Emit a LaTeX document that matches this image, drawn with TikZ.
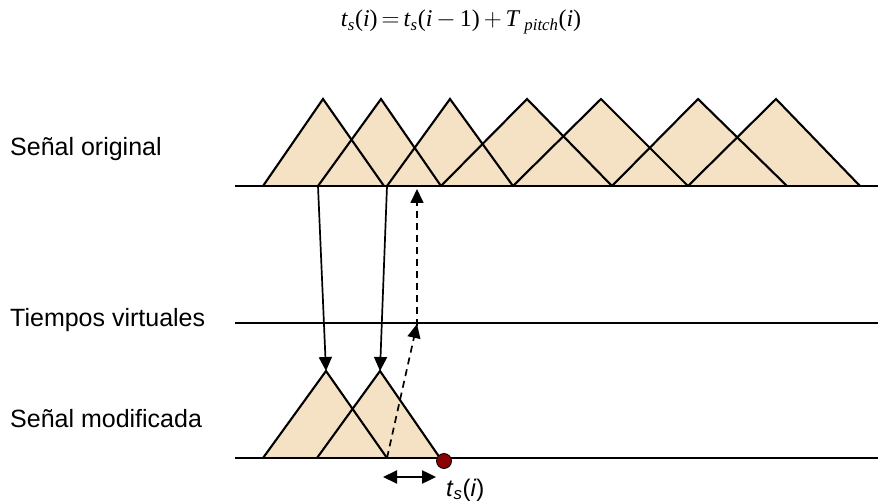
\documentclass[tikz,border=0pt]{standalone}
\usepackage{fontspec}
\setmainfont{Liberation Sans}
\newfontfamily\formulafont{Liberation Serif}
\usetikzlibrary{arrows.meta, calc}
\definecolor{sigFill}{HTML}{F5E1C3}
\definecolor{sigDot}{HTML}{8B0000}
\tikzset{
  axisline/.style={line width=2.1pt, black},
  wavefill/.style={fill=sigFill},
  waveedge/.style={draw=black, line width=2.1pt},
  maparrow/.style={-{Triangle[length=14pt, width=13pt]}, line width=1.7pt},
  vtarrow/.style={maparrow, dash pattern=on 7pt off 5pt},
  shiftarrow/.style={{Triangle[length=14pt, width=13pt]}-{Triangle[length=14pt, width=13pt]}, line width=2pt},
  rowlabel/.style={anchor=base west, inner sep=0pt, font=\fontsize{25}{30}\selectfont},
  tsdot/.style={circle, fill=sigDot, draw=black, line width=0.8pt, minimum size=15pt, inner sep=0pt}
}

\begin{document}
\begin{tikzpicture}[x=1pt, y=-1pt]
  \useasboundingbox (0,0) rectangle (878,502);

  % formula
  \node[anchor=base, inner sep=0pt, font=\formulafont\fontsize{24}{28}\selectfont] (eq) at (461,27)
    {\textit{t}\textsubscript{\textit{s}}(\textit{i})\,$=$\,\textit{t}\textsubscript{\textit{s}}(\textit{i}\,$-$\,1)\,$+$\,\textit{T}\,\textsubscript{\textit{pitch}}(\textit{i})};

  % row labels
  \node[rowlabel] (orig) at (10,156) {Señal original};
  \node[rowlabel] (virt) at (10,327) {Tiempos virtuales};
  \node[rowlabel] (modi) at (10,428) {Señal modificada};

  % original signal windows
  \foreach \n/\l/\p/\r in {1/263/323/384, 2/318/381/441, 3/387/450/513, 4/441/527/612,
                           5/513/601/688, 6/612/698/787, 7/688/776/860} {
    \coordinate (o\n-l) at (\l,186);
    \coordinate (o\n-p) at (\p,99);
    \coordinate (o\n-r) at (\r,186);
    \fill[wavefill] (o\n-l) -- (o\n-p) -- (o\n-r) -- cycle;
  }
  \foreach \n in {1,...,7}
    \draw[waveedge] (o\n-l) -- (o\n-p) -- (o\n-r);

  % modified signal windows
  \foreach \n/\l/\p/\r in {A/263/326/387, B/317/380/440} {
    \coordinate (m\n-l) at (\l,458);
    \coordinate (m\n-p) at (\p,371);
    \coordinate (m\n-r) at (\r,458);
    \fill[wavefill] (m\n-l) -- (m\n-p) -- (m\n-r) -- cycle;
  }
  \foreach \n in {A,B}
    \draw[waveedge] (m\n-l) -- (m\n-p) -- (m\n-r);

  % time axes
  \coordinate (oax-l) at (235,186);  \coordinate (oax-r) at (878,186);
  \coordinate (vax-l) at (235,323);  \coordinate (vax-r) at (878,323);
  \coordinate (max-l) at (235,458);  \coordinate (max-r) at (878,458);
  \draw[axisline] (oax-l) -- (oax-r);
  \draw[axisline] (vax-l) -- (vax-r);
  \draw[axisline] (max-l) -- (max-r);

  % mapping
  \draw[maparrow] (o2-l) -- (mA-p);
  \draw[maparrow] (o3-l) -- (mB-p);
  \coordinate (vt) at (417,324);
  \coordinate (ot) at (417,189);
  \draw[vtarrow] (mA-r) -- (vt);
  \draw[vtarrow] ([yshift=-2pt]vt) -- (ot);

  % synthesis mark
  \node[tsdot] (ts) at (444,461) {};
  \coordinate (sh-l) at (383,477);
  \draw[shiftarrow] (sh-l) -- (ts.west |- sh-l);
  \node[anchor=base west, inner sep=0pt, font=\fontsize{24}{28}\selectfont] (tslabel) at (446,496)
    {\textit{t}\textsubscript{\textit{s}}(\textit{i})};
\end{tikzpicture}
\end{document}
